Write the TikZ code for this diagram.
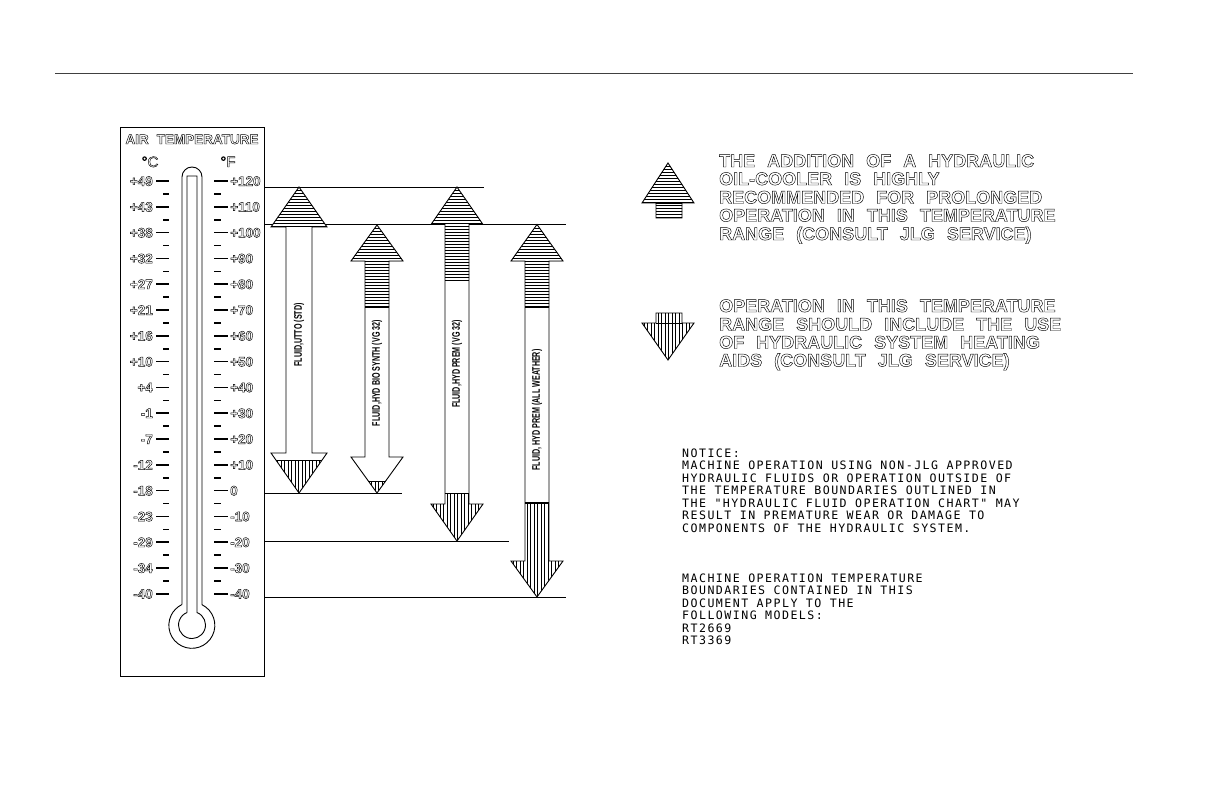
\documentclass[tikz,border=0pt]{standalone}
\usepackage{fontspec}
\setmainfont{Liberation Sans}
\newfontfamily\thermfont{Liberation Sans}
\newfontfamily\legfont[WordSpace=2.4]{Liberation Sans}
\newfontfamily\arrfont[FakeStretch=0.65]{Liberation Sans}
\newfontfamily\notefont[LetterSpace=12.6]{DejaVu Sans Mono}
\newcommand\hollowon{\special{pdf:literal direct 1 Tr 0.45 w}}
\newcommand\hollowoff{\special{pdf:literal direct 0 Tr}}
\begin{document}
\begin{tikzpicture}[x=1pt,y=-1pt,
  outl/.style={line width=0.9pt},
  hatch/.style={line width=0.55pt},
  thick line/.style={line width=1.8pt},
  refline/.style={line width=0.9pt},
  tick/.style={line width=1.6pt},
  hollow/.style={execute at begin node=\hollowon,execute at end node=\hollowoff},
  thermtext/.style={hollow,inner sep=0pt,font=\thermfont\bfseries\fontsize{13.5}{13.5}\selectfont},
  clab/.style={thermtext,anchor=base east},
  flab/.style={thermtext,anchor=base west},
  alab/.style={rotate=90,inner sep=0pt,font=\arrfont\bfseries\fontsize{11}{11}\selectfont},
  leg/.style={hollow,anchor=base west,inner sep=0pt,font=\legfont\bfseries\fontsize{18}{18}\selectfont},
  note/.style={anchor=base west,inner sep=0pt,font=\notefont\fontsize{11.6}{12}\selectfont}]
\useasboundingbox (0,0) rectangle (1224,792);
% top rule
\draw[line width=1pt,black!75] (55,74) -- (1133,74);
% thermometer frame
\draw[outl] (120,127) rectangle (264,676);
\node[thermtext,anchor=base] (airt) at (192,144) {AIR\hspace{8pt}TEMPERATURE};
\node[thermtext,anchor=base,font=\thermfont\fontsize{15}{15}\selectfont] (degc) at (150,167) {°C};
\node[thermtext,anchor=base,font=\thermfont\fontsize{15}{15}\selectfont] (degf) at (228,167) {°F};
% tube and bulb
\draw[outl] (182,604.7) -- (182,177) arc[start angle=180,end angle=360,radius=10] -- (202,604.7) arc[start angle=-63.8,end angle=243.8,radius=23];
\draw[outl] (187,612.5) -- (187,176) -- (197,176) -- (197,612.5) arc[start angle=-68.3,end angle=248.3,radius=13.5];
% scales
\foreach \c [count=\i from 0] in {+49,+43,+38,+32,+27,+21,+16,+10,+4,-1,-7,-12,-18,-23,-29,-34,-40} {
  \node[clab] (c\i) at (153,181+25.8*\i+4.8) {\c};
  \draw[tick] (156,181+25.8*\i) -- (169,181+25.8*\i);
}
\foreach \f [count=\i from 0] in {+120,+110,+100,+90,+80,+70,+60,+50,+40,+30,+20,+10,0,-10,-20,-30,-40} {
  \node[flab] (f\i) at (230,181+25.8*\i+4.8) {\f};
  \draw[tick] (214,181+25.8*\i) -- (228,181+25.8*\i);
}
\foreach \i in {0,...,15} {
  \draw[tick] (163,181+25.8*\i+12.9) -- (169,181+25.8*\i+12.9);
  \draw[tick] (214,181+25.8*\i+12.9) -- (221,181+25.8*\i+12.9);
}
% reference lines
\draw[refline] (264,187) -- (484,187);
\draw[refline] (264,224.5) -- (566,224.5);
\draw[refline] (264,493) -- (402,493);
\draw[refline] (264,541) -- (509,541);
\draw[refline] (264,597) -- (566,597);
% arrow 1
\draw[outl,fill=white] (299,187) -- (327,227) -- (312,227) -- (312,453) -- (327,453) -- (299,493) -- (271,453) -- (286,453) -- (286,227) -- (271,227) -- cycle;
\begin{scope}
  \clip (299,187) -- (327,227) -- (271,227) -- cycle;
  \foreach \yy in {190,193,...,226} \draw[hatch] (265,\yy) -- (335,\yy);
\end{scope}
\begin{scope}
  \clip (265,460) rectangle (335,495);
  \clip (271,453) -- (327,453) -- (299,493) -- cycle;
  \foreach \xx in {274,277.5,...,326} \draw[hatch] (\xx,450) -- (\xx,496);
\end{scope}
\draw[outl] (276,460) -- (322,460);
% arrow 2
\draw[outl,fill=white] (377,225) -- (403,261) -- (389,261) -- (389,457) -- (403,457) -- (377,493) -- (351,457) -- (365,457) -- (365,261) -- (351,261) -- cycle;
\begin{scope}
  \clip (377,225) -- (403,261) -- (389,261) -- (389,307) -- (365,307) -- (365,261) -- (351,261) -- cycle;
  \foreach \yy in {228,231,...,306} \draw[hatch] (345,\yy) -- (410,\yy);
\end{scope}
\draw[thick line] (365,307) -- (389,307);
\begin{scope}
  \clip (345,481) rectangle (410,495);
  \clip (351,457) -- (403,457) -- (377,493) -- cycle;
  \foreach \xx in {368,371.5,...,388} \draw[hatch] (\xx,450) -- (\xx,496);
\end{scope}
\draw[outl] (368.3,481) -- (385.7,481);
% arrow 3
\draw[outl,fill=white] (457,187) -- (483,224.5) -- (469,224.5) -- (469,504) -- (483,504) -- (457,541) -- (431,504) -- (445,504) -- (445,224.5) -- (431,224.5) -- cycle;
\begin{scope}
  \clip (457,187) -- (483,224.5) -- (469,224.5) -- (469,280) -- (445,280) -- (445,224.5) -- (431,224.5) -- cycle;
  \foreach \yy in {190,193,...,279} \draw[hatch] (425,\yy) -- (490,\yy);
\end{scope}
\draw[outl] (445,280) -- (469,280);
\begin{scope}
  \clip (445,493) -- (469,493) -- (469,504) -- (483,504) -- (457,541) -- (431,504) -- (445,504) -- cycle;
  \foreach \xx in {433,436.5,...,482} \draw[hatch] (\xx,490) -- (\xx,545);
\end{scope}
\draw[outl] (445,493) -- (469,493);
% arrow 4
\draw[outl,fill=white] (537,224.5) -- (563,261) -- (549,261) -- (549,561) -- (563,561) -- (537,597) -- (511,561) -- (525,561) -- (525,261) -- (511,261) -- cycle;
\begin{scope}
  \clip (537,224.5) -- (563,261) -- (549,261) -- (549,307) -- (525,307) -- (525,261) -- (511,261) -- cycle;
  \foreach \yy in {228,231,...,306} \draw[hatch] (505,\yy) -- (570,\yy);
\end{scope}
\draw[thick line] (525,307) -- (549,307);
\begin{scope}
  \clip (525,503) -- (549,503) -- (549,561) -- (563,561) -- (537,597) -- (511,561) -- (525,561) -- cycle;
  \foreach \xx in {513,516.5,...,562} \draw[hatch] (\xx,500) -- (\xx,600);
\end{scope}
\draw[thick line] (525,503) -- (549,503);
% arrow labels
\node[alab] (l1) at (299,335) {FLUID,UTTO (STD)};
\node[alab] (l2) at (377,373) {FLUID,HYD BIO SYNTH (VG 32)};
\node[alab] (l3) at (457,364) {FLUID,HYD PREM (VG 32)};
\node[alab] (l4) at (537,410) {FLUID, HYD PREM (ALL WEATHER)};
% legend icons
\draw[outl,fill=white] (668,163) -- (694,203) -- (682,203) -- (682,218) -- (656,218) -- (656,203) -- (642,203) -- cycle;
\begin{scope}
  \clip (668,163) -- (694,203) -- (682,203) -- (682,218) -- (656,218) -- (656,203) -- (642,203) -- cycle;
  \foreach \yy in {166,169,...,217} \draw[hatch] (638,\yy) -- (700,\yy);
\end{scope}
\draw[outl] (656,203) -- (682,203);
\draw[outl,fill=white] (656,313) -- (682,313) -- (682,323) -- (694,323) -- (668,360) -- (642,323) -- (656,323) -- cycle;
\begin{scope}
  \clip (656,313) -- (682,313) -- (682,323) -- (694,323) -- (668,360) -- (642,323) -- (656,323) -- cycle;
  \foreach \xx in {644,647.5,...,693} \draw[hatch] (\xx,310) -- (\xx,362);
\end{scope}
\draw[outl] (656,323) -- (682,323);
% legend texts
\node[leg] (u1) at (719,167) {THE ADDITION OF A HYDRAULIC};
\node[leg] (u2) at (719,185) {OIL-COOLER IS HIGHLY};
\node[leg] (u3) at (719,203.5) {RECOMMENDED FOR PROLONGED};
\node[leg] (u4) at (719,221.5) {OPERATION IN THIS TEMPERATURE};
\node[leg] (u5) at (719,240) {RANGE (CONSULT JLG SERVICE)};
\node[leg] (d1) at (719,312) {OPERATION IN THIS TEMPERATURE};
\node[leg] (d2) at (719,330.5) {RANGE SHOULD INCLUDE THE USE};
\node[leg] (d3) at (719,348.5) {OF HYDRAULIC SYSTEM HEATING};
\node[leg] (d4) at (719,366.5) {AIDS (CONSULT JLG SERVICE)};
% notice
\node[note] (n1) at (682,457) {NOTICE:};
\node[note] (n2) at (682,469.5) {MACHINE OPERATION USING NON-JLG APPROVED};
\node[note] (n3) at (682,482) {HYDRAULIC FLUIDS OR OPERATION OUTSIDE OF};
\node[note] (n4) at (682,494.5) {THE TEMPERATURE BOUNDARIES OUTLINED IN};
\node[note] (n5) at (682,507) {THE "HYDRAULIC FLUID OPERATION CHART" MAY};
\node[note] (n6) at (682,519.5) {RESULT IN PREMATURE WEAR OR DAMAGE TO};
\node[note] (n7) at (682,532) {COMPONENTS OF THE HYDRAULIC SYSTEM.};
\node[note] (m1) at (682,582) {MACHINE OPERATION TEMPERATURE};
\node[note] (m2) at (682,594.5) {BOUNDARIES CONTAINED IN THIS};
\node[note] (m3) at (682,607) {DOCUMENT APPLY TO THE};
\node[note] (m4) at (682,619.5) {FOLLOWING MODELS:};
\node[note] (m5) at (682,632) {RT2669};
\node[note] (m6) at (682,644.5) {RT3369};
\end{tikzpicture}
\end{document}
